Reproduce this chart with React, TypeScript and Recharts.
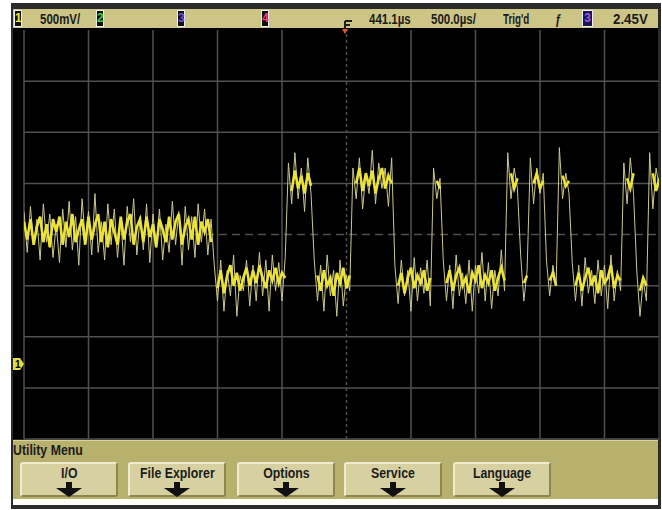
import React from 'react';
import { ComposedChart, Line, XAxis, YAxis, ReferenceLine } from 'recharts';

// channel 1 trace in divisions from screen centre, one sample every 0.05 div
const SAMPLE_DIV = 0.05;

// full noise swing (faint persistence strokes)
const idleLevel = [
  0.45, -0.35, 0.55, -0.2, 0.3, -0.5, 0.6, -0.15, 0.4, -0.45,
  0.2, -0.55, 0.5, -0.25, 0.65, -0.3, 0.35, -0.6, 0.7, -0.1,
  0.45, -0.4, 0.8, -0.35, 0.25, -0.5, 0.6, -0.2, 0.5, -0.45,
  0.3, -0.6, 0.55, -0.15, 0.7, -0.4, 0.35, -0.3, 0.6, -0.55,
  0.4, -0.25, 0.5, -0.5, 0.2, -0.35, 0.65, -0.2, 0.45, -0.6,
  0.55, -0.3, 0.35, -0.45, 0.6, -0.15, 0.5, -0.4, 0.3,
];

const burst = [
  -0.6, -1.3, -0.5, -1.5, -0.7, -1.2, -0.4, -1.6, -0.8, -1.1,
  -0.5, -1.4, -0.6, -1.3, -0.35, -1.2, -0.5, -1.5, -0.4, -1.1,
  -0.55, -1.3, -0.45,
  1.4, 0.6, 1.6, 0.7, 1.3, 0.45, 1.5, 0.8,
  -0.5, -1.3, -0.6, -1.5, -0.4, -1.2, -0.7, -1.6, -0.5, -1.4, -0.8, -1.1,
  1.3, 0.7, 1.5, 0.5, 1.2, 0.8, 1.65, 0.6, 1.4, 0.9, 1.3, 0.55, 1.5,
  -0.6, -1.35, -0.5, -1.2, -0.7, -1.5, -0.45, -1.3, -0.65, -1.15, -0.5, -1.4,
  1.3, 0.7, 1.1,
  -0.5, -1.3, -0.6, -1.45, -0.4, -1.2, -0.75, -1.35, -0.5, -1.5,
  -0.6, -1.15, -0.35, -1.3, -0.55, -1.45, -0.7, -1.2, -0.3, -1.1,
  1.6, 0.7, 1.3, 0.9,
  -0.4, -1.3, -0.7,
  1.5, 0.6, 1.3, 0.8, 1.2,
  -0.5, -1.2, -0.6, -1.0,
  1.7, 0.7, 1.2, 0.8,
  -0.55, -1.3, -0.6, -1.4, -0.45, -1.15, -0.7, -1.35, -0.5, -1.2, -0.6, -1.45, -0.4, -1.3, -0.7, -1.1,
  1.4, 0.6, 1.5, 0.8,
  -0.7, -1.6, -0.9, -1.3,
  1.6, 0.5, 1.3, 0.9,
];

// bright core of the trace, broken at each edge
const idleCore = [
  0.25, -0.1, 0.3, -0.2, 0.15, 0.35, -0.15, 0.2, -0.25, 0.3,
  0.05, 0.35, -0.2, 0.25, -0.05, 0.4, -0.15, 0.1, 0.3, -0.2,
  0.35, -0.1, 0.2, 0.4, -0.15, 0.25, -0.25, 0.3, 0.05, -0.2,
  0.35, -0.1, 0.25, 0.4, -0.2, 0.15, 0.3, -0.15, 0.35, -0.05,
  0.2, -0.25, 0.3, 0.1, -0.15, 0.35, -0.1, 0.25, 0.4, -0.2,
  0.15, 0.3, -0.1, 0.35, -0.2, 0.25, 0.05, 0.3, -0.15,
];

const burstCore = [
  null, -1.05, -0.7, -1.15, -0.8, -0.6, -1.0, -0.75, -1.1, -0.85,
  -0.65, -1.0, -0.7, -0.95, -0.6, -0.85, -1.05, -0.7, -0.9, -0.65,
  -0.95, -0.75, -0.85,
  null, 0.85, 1.25, 0.9, 1.15, 0.8, 1.2, 0.95,
  null, -0.8, -1.1, -0.7, -1.0, -0.85, -1.2, -0.75, -0.95, -0.65, -1.05, -0.8,
  null, 1.0, 1.3, 0.85, 1.2, 0.95, 1.25, 0.8, 1.1, 1.3, 0.9, 1.15, 1.0,
  null, -1.0, -0.75, -1.15, -0.85, -0.65, -1.05, -0.8, -0.95, -0.7, -1.1, -0.85,
  null, 1.05, 0.9,
  null, -0.95, -0.7, -1.1, -0.8, -0.65, -1.0, -0.85, -1.15, -0.75,
  -0.9, -0.6, -1.05, -0.8, -0.95, -0.7, -1.1, -0.85, -0.65, -0.9,
  null, 1.2, 0.9, 1.1,
  null, -0.95, -0.8,
  null, 1.0, 1.2, 0.9, 1.05,
  null, -0.9, -0.75, -1.0,
  null, 1.15, 0.95, 1.05,
  null, -1.0, -0.75, -1.1, -0.85, -0.65, -1.0, -0.8, -1.15, -0.7, -0.95, -0.85, -0.6, -1.05, -0.8, -0.9,
  null, 1.1, 0.9, 1.2,
  null, -1.1, -0.85, -1.0,
  null, 1.2, 0.85, 1.1,
];

const xDivs = [0, 1, 2, 3, 4, 5, 6, 7, 8, 9];
const yDivs = [-4, -3, -2, -1, 0, 1, 2, 3];

const menuItems = ['I/O', 'File Explorer', 'Options', 'Service', 'Language'];
const BUTTON_X = [20, 128, 237, 344, 453];

const FONT = '"Liberation Sans", Arial, sans-serif';

const Txt: React.FC<{ x: number; y: number; size?: number; sx?: number; children: React.ReactNode }> = ({ x, y, size = 14, sx = 0.82, children }) => (
  <div style={{ position: 'absolute', left: x, top: y, fontSize: size, fontWeight: 'bold', color: '#1c1c1c', lineHeight: '1', whiteSpace: 'nowrap', transform: `scaleX(${sx})`, transformOrigin: 'left center' }}>
    {children}
  </div>
);

const ChBox: React.FC<{ x: number; w?: number; color: string; bg?: string; label: string }> = ({ x, w = 8, color, bg = '#111', label }) => (
  <div style={{ position: 'absolute', left: x, top: 10, width: w, height: 17, background: bg, border: '1px solid #eee', boxSizing: 'border-box', color, fontSize: 12, fontWeight: 'bold', textAlign: 'center', lineHeight: '15px' }}>
    {label}
  </div>
);

const Arrow = () => (
  <svg width={26} height={16} style={{ display: 'block', margin: '0 auto' }}>
    <polygon points="10,0 16,0 16,6 26,6 13,15 0,6 10,6" fill="#111" />
  </svg>
);

const App: React.FC = () => {
  const full = [...idleLevel, ...burst];
  const core = [...idleCore, ...burstCore];
  const data = full.map((v, i) => ({ t: i * SAMPLE_DIV, v, c: core[i] }));
  return (
    <div style={{ position: 'fixed', left: 0, top: 0, width: 662, height: 510, background: '#fff', overflow: 'hidden', fontFamily: FONT }}>
      <div style={{ position: 'absolute', left: 11, top: 3, width: 650, height: 506, background: '#2b2b2b' }} />
      <div style={{ position: 'absolute', left: 13, top: 28, width: 645, height: 411, background: '#000' }} />

      {/* status bar */}
      <div style={{ position: 'absolute', left: 13, top: 9, width: 645, height: 19, background: '#cdc585' }} />
      <ChBox x={14} color="#f2e83a" label="1" />
      <Txt x={40} y={12}>500mV/</Txt>
      <ChBox x={96} color="#3fd04a" label="2" />
      <ChBox x={177} color="#8a4ad8" label="3" />
      <ChBox x={261} color="#ff3a7a" label="4" />
      <Txt x={369} y={12}>441.1µs</Txt>
      <Txt x={431} y={12}>500.0µs/</Txt>
      <Txt x={503} y={12} sx={0.7}>Trig'd</Txt>
      <Txt x={555} y={12}>ƒ</Txt>
      <ChBox x={582} w={11} color="#9a5af0" bg="#1c1650" label="3" />
      <Txt x={613} y={12} sx={0.95}>2.45V</Txt>

      {/* softkey menu */}
      <div style={{ position: 'absolute', left: 13, top: 440, width: 645, height: 59, background: '#b8b06d', borderTop: '1px solid #d8d29c' }} />
      <div style={{ position: 'absolute', left: 13, top: 499, width: 645, height: 6, background: '#fff' }} />
      <Txt x={13} y={443} size={14} sx={0.88}>Utility Menu</Txt>
      {menuItems.map((m, i) => (
        <div key={m} style={{ position: 'absolute', left: BUTTON_X[i], top: 462, width: 98, height: 35, boxSizing: 'border-box', background: '#d7d1a2', borderTop: '2px solid #eeebcf', borderLeft: '2px solid #eeebcf', borderRight: '2px solid #8d864f', borderBottom: '2px solid #8d864f', borderRadius: 3, textAlign: 'center' }}>
          <div style={{ display: 'inline-block', fontSize: 14, fontWeight: 'bold', color: '#1c1c1c', lineHeight: '15px', marginTop: 1, transform: 'scaleX(0.88)', whiteSpace: 'nowrap' }}>{m}</div>
          <Arrow />
        </div>
      ))}

      <div style={{ position: 'absolute', left: 0, top: 0 }}>
        <ComposedChart width={662} height={510} data={data} margin={{ top: 30, right: 3, bottom: 71, left: 24 }}>
          <XAxis type="number" dataKey="t" domain={[0, 9.845]} hide allowDataOverflow />
          <YAxis type="number" domain={[-4, 4]} hide allowDataOverflow />
          {xDivs.map((x) => (
            <ReferenceLine key={'x' + x} x={x} stroke="#505050" strokeWidth={1.5} strokeDasharray={x === 5 ? '3 3' : undefined} />
          ))}
          {yDivs.map((y) => (
            <ReferenceLine key={'y' + y} y={y} stroke="#505050" strokeWidth={1.5} strokeDasharray={y === 0 ? '8 5' : undefined} />
          ))}
          <Line type="linear" dataKey="v" stroke="#cbc88c" strokeWidth={1} dot={false} isAnimationActive={false} />
          <Line type="linear" dataKey="c" stroke="#ece33a" strokeWidth={2.6} dot={false} isAnimationActive={false} />
        </ComposedChart>
      </div>

      {/* trigger position marker */}
      <svg style={{ position: 'absolute', left: 340, top: 17 }} width={16} height={18}>
        <path d="M5 4 H12 M5 4 V13 M5 8 H10" stroke="#1c1c1c" strokeWidth={2} fill="none" />
        <polygon points="2,12 8,12 5,17" fill="#e8541e" />
      </svg>

      {/* channel 1 ground marker */}
      <svg style={{ position: 'absolute', left: 13, top: 356 }} width={12} height={16}>
        <polygon points="0,2 7,2 11,8 7,14 0,14" fill="#e6dc3c" />
        <text x={2} y={12} fontSize={10} fontWeight="bold" fill="#000">1</text>
      </svg>
    </div>
  );
};

export default App;
